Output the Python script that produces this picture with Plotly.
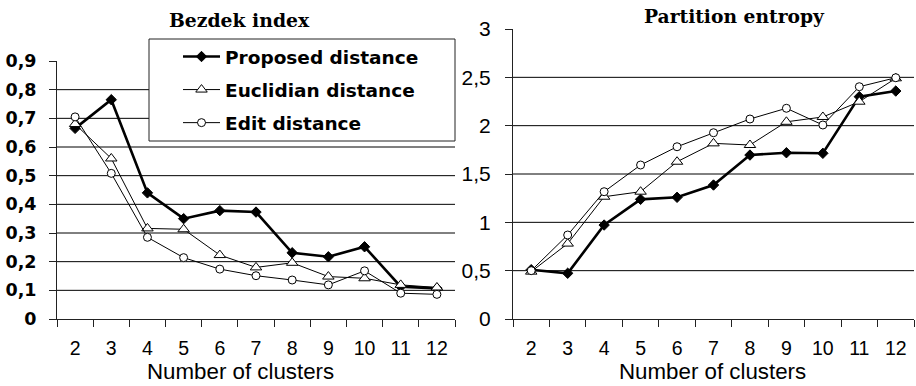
import plotly.graph_objects as go

# ---------------- data ----------------
clusters = ["2", "3", "4", "5", "6", "7", "8", "9", "10", "11", "12"]

bezdek_proposed = [0.665, 0.765, 0.44, 0.35, 0.378, 0.373, 0.231, 0.217, 0.252, 0.113, 0.107]
bezdek_euclidian = [0.68, 0.56, 0.316, 0.313, 0.223, 0.18, 0.196, 0.148, 0.142, 0.119, 0.11]
bezdek_edit = [0.705, 0.508, 0.285, 0.214, 0.174, 0.151, 0.136, 0.119, 0.168, 0.09, 0.086]

entropy_proposed = [0.51, 0.473, 0.972, 1.238, 1.259, 1.386, 1.696, 1.72, 1.714, 2.30, 2.358]
entropy_euclidian = [0.49, 0.78, 1.265, 1.317, 1.627, 1.817, 1.80, 2.04, 2.09, 2.248, 2.49]
entropy_edit = [0.50, 0.869, 1.317, 1.593, 1.782, 1.927, 2.069, 2.18, 2.007, 2.403, 2.496]

series_names = ["Proposed distance", "Euclidian distance", "Edit distance"]

bezdek_ticks = [0, 0.1, 0.2, 0.3, 0.4, 0.5, 0.6, 0.7, 0.8, 0.9]
bezdek_grid = [0.1, 0.2, 0.3, 0.4, 0.5, 0.6, 0.7, 0.8]
entropy_ticks = [0, 0.5, 1, 1.5, 2, 2.5, 3]
entropy_grid = [0.5, 1, 1.5, 2, 2.5]

title_left = "Bezdek index"
title_right = "Partition entropy"
x_title = "Number of clusters"

# ---------------- styles ----------------
styles = [
    dict(line=dict(color="black", width=2.6),
         marker=dict(symbol="diamond", size=8, color="black",
                     line=dict(color="black", width=1))),
    dict(line=dict(color="black", width=1),
         marker=dict(symbol="triangle-up", size=10, color="white",
                     line=dict(color="black", width=1))),
    dict(line=dict(color="black", width=1),
         marker=dict(symbol="circle", size=8, color="white",
                     line=dict(color="black", width=1))),
]

W, H = 916, 386


def px_x(p):
    return p / W


def px_y(p):
    return (H - p) / H


fig = go.Figure()

left_data = [bezdek_proposed, bezdek_euclidian, bezdek_edit]
right_data = [entropy_proposed, entropy_euclidian, entropy_edit]

for i, (name, vals) in enumerate(zip(series_names, left_data)):
    fig.add_trace(go.Scatter(
        x=clusters, y=vals, name=name, mode="lines+markers",
        xaxis="x", yaxis="y", legendgroup=f"g{i}", showlegend=True,
        **styles[i]))

for i, (name, vals) in enumerate(zip(series_names, right_data)):
    fig.add_trace(go.Scatter(
        x=clusters, y=vals, name=name, mode="lines+markers",
        xaxis="x2", yaxis="y2", legendgroup=f"g{i}", showlegend=False,
        **styles[i]))

axis_common_x = dict(
    type="category", range=[-0.5, len(clusters) - 0.5], tickson="boundaries",
    ticks="outside", ticklen=7, tickcolor="#222", tickwidth=1,
    showline=True, linecolor="#222", linewidth=1, showgrid=False,
    zeroline=False, ticklabelstandoff=12, automargin=False,
    tickfont=dict(family="Liberation Sans, Arial", size=19.5, color="black"),
)

fig.update_layout(
    width=W, height=H, margin=dict(l=0, r=0, t=0, b=0, autoexpand=False),
    paper_bgcolor="white", plot_bgcolor="white",
    separators=", ",
    showlegend=True,
    xaxis=dict(domain=[px_x(57), px_x(455)], anchor="y", **axis_common_x),
    yaxis=dict(domain=[px_y(319), px_y(61)], anchor="x", range=[0, 0.9],
               tickvals=bezdek_ticks, ticks="outside", ticklen=7,
               tickcolor="#222", showline=True, linecolor="#222", linewidth=1,
               showgrid=False, zeroline=False, ticklabelstandoff=9,
               automargin=False,
               tickfont=dict(family="DejaVu Sans", size=17.5, color="black",
                             weight="bold")),
    xaxis2=dict(domain=[px_x(513), px_x(914)], anchor="y2", **axis_common_x),
    yaxis2=dict(domain=[px_y(319), px_y(29)], anchor="x2", range=[0, 3],
                tickvals=entropy_ticks, ticks="outside", ticklen=7,
                tickcolor="#222", showline=True, linecolor="#222", linewidth=1,
                showgrid=False, zeroline=False, ticklabelstandoff=10,
                automargin=False,
                tickfont=dict(family="Liberation Sans, Arial", size=21,
                              color="black")),
    legend=dict(
        x=px_x(178), y=px_y(38), xanchor="left", yanchor="top",
        bgcolor="rgba(0,0,0,0)", borderwidth=0,
        font=dict(family="DejaVu Sans", size=18.5, color="black",
                  weight="bold"),
        itemwidth=37, tracegroupgap=6, traceorder="grouped",
    ),
)

shapes = []
for v in bezdek_grid:
    shapes.append(dict(type="line", xref="x domain", yref="y", x0=0, x1=1,
                       y0=v, y1=v, line=dict(color="black", width=1),
                       layer="below"))
for v in entropy_grid:
    shapes.append(dict(type="line", xref="x2 domain", yref="y2", x0=0, x1=1,
                       y0=v, y1=v, line=dict(color="black", width=1),
                       layer="below"))
# legend frame
shapes.append(dict(type="rect", xref="paper", yref="paper",
                   x0=px_x(149), x1=px_x(455), y0=px_y(141), y1=px_y(39),
                   fillcolor="white", line=dict(color="#222", width=1),
                   layer="above"))
fig.update_layout(shapes=shapes)

fig.update_layout(annotations=[
    dict(text=f"<b>{title_left}</b>", xref="paper", yref="paper",
         x=px_x(239), y=px_y(20), showarrow=False, xanchor="center",
         yanchor="middle",
         font=dict(family="DejaVu Serif", size=18.8, color="black")),
    dict(text=f"<b>{title_right}</b>", xref="paper", yref="paper",
         x=px_x(734), y=px_y(16), showarrow=False, xanchor="center",
         yanchor="middle",
         font=dict(family="DejaVu Serif", size=18.7, color="black")),
    dict(text=x_title, xref="paper", yref="paper",
         x=px_x(240), y=px_y(386), showarrow=False, xanchor="center",
         yanchor="bottom",
         font=dict(family="Liberation Sans, Arial", size=22.3, color="black")),
    dict(text=x_title, xref="paper", yref="paper",
         x=px_x(712), y=px_y(386), showarrow=False, xanchor="center",
         yanchor="bottom",
         font=dict(family="Liberation Sans, Arial", size=22.3, color="black")),
])

fig.write_html("out.html")
